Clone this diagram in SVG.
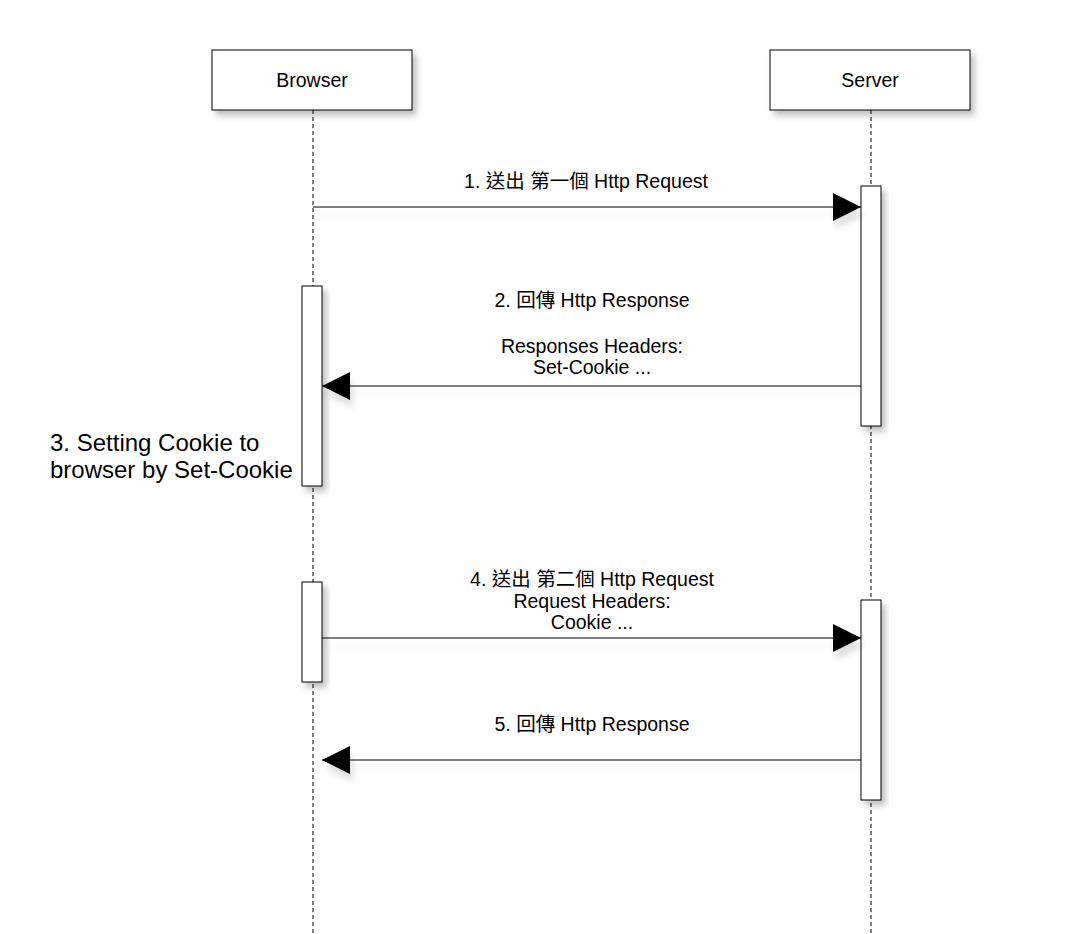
<svg xmlns="http://www.w3.org/2000/svg" width="1080" height="934" viewBox="0 0 1080 934">
<style>
.box{fill:#fff;stroke:#000;stroke-width:1}
.life{stroke:#000;stroke-width:1;stroke-dasharray:4,3;fill:none}
.msg{stroke:#000;stroke-width:1;fill:none}
.t{font-family:"Liberation Sans","Noto Sans CJK TC",sans-serif;font-size:19.5px;fill:#000;text-anchor:middle}
.big{font-family:"Liberation Sans",sans-serif;font-size:24px;fill:#000}
</style>
<defs>
<filter id="sh" x="-20%" y="-20%" width="160%" height="160%">
<feDropShadow dx="4" dy="5" stdDeviation="3" flood-color="#000" flood-opacity="0.25"/>
</filter>
<filter id="lsh" x="-5%" y="-200%" width="110%" height="500%">
<feDropShadow dx="3" dy="8" stdDeviation="3" flood-color="#000" flood-opacity="0.12"/>
</filter>
<marker id="ah" markerWidth="28" markerHeight="28" refX="28" refY="14" orient="auto" markerUnits="userSpaceOnUse">
<path d="M0,0 L28,14 L0,28 Z" fill="#000"/>
</marker>
</defs>
<g id="lifelines">
<line class="life" x1="313" y1="110" x2="313" y2="934"/>
<line class="life" x1="871" y1="110" x2="871" y2="934"/>
</g>
<g id="browser"><rect class="box" x="212" y="50" width="200" height="60" filter="url(#sh)"/><text class="t" x="312" y="87">Browser</text></g>
<g id="server"><rect class="box" x="770" y="50" width="200" height="60" filter="url(#sh)"/><text class="t" x="870" y="87">Server</text></g>
<g id="activations">
<rect class="box" x="861" y="186" width="20" height="240" filter="url(#sh)"/>
<rect class="box" x="302" y="286" width="20" height="200" filter="url(#sh)"/>
<rect class="box" x="302" y="582" width="20" height="100" filter="url(#sh)"/>
<rect class="box" x="861" y="600" width="20" height="200" filter="url(#sh)"/>
</g>
<g id="connectors" filter="url(#lsh)">
<line class="msg" x1="313" y1="207" x2="861" y2="207" marker-end="url(#ah)"/>
<line class="msg" x1="861" y1="386" x2="322" y2="386" marker-end="url(#ah)"/>
<line class="msg" x1="322" y1="638" x2="861" y2="638" marker-end="url(#ah)"/>
<line class="msg" x1="861" y1="760" x2="322" y2="760" marker-end="url(#ah)"/>
</g>
<g id="labels">
<text class="t" x="586" y="188">1. 送出 第一個 Http Request</text>
<text class="t" x="592" y="307">2. 回傳 Http Response</text>
<text class="t" x="592" y="353">Responses Headers:</text>
<text class="t" x="592" y="374">Set-Cookie ...</text>
<text class="big" x="50" y="451">3. Setting Cookie to</text>
<text class="big" x="50" y="478">browser by Set-Cookie</text>
<text class="t" x="592" y="586">4. 送出 第二個 Http Request</text>
<text class="t" x="592" y="608">Request Headers:</text>
<text class="t" x="592" y="629">Cookie ...</text>
<text class="t" x="592" y="731">5. 回傳 Http Response</text>
</g>
</svg>
